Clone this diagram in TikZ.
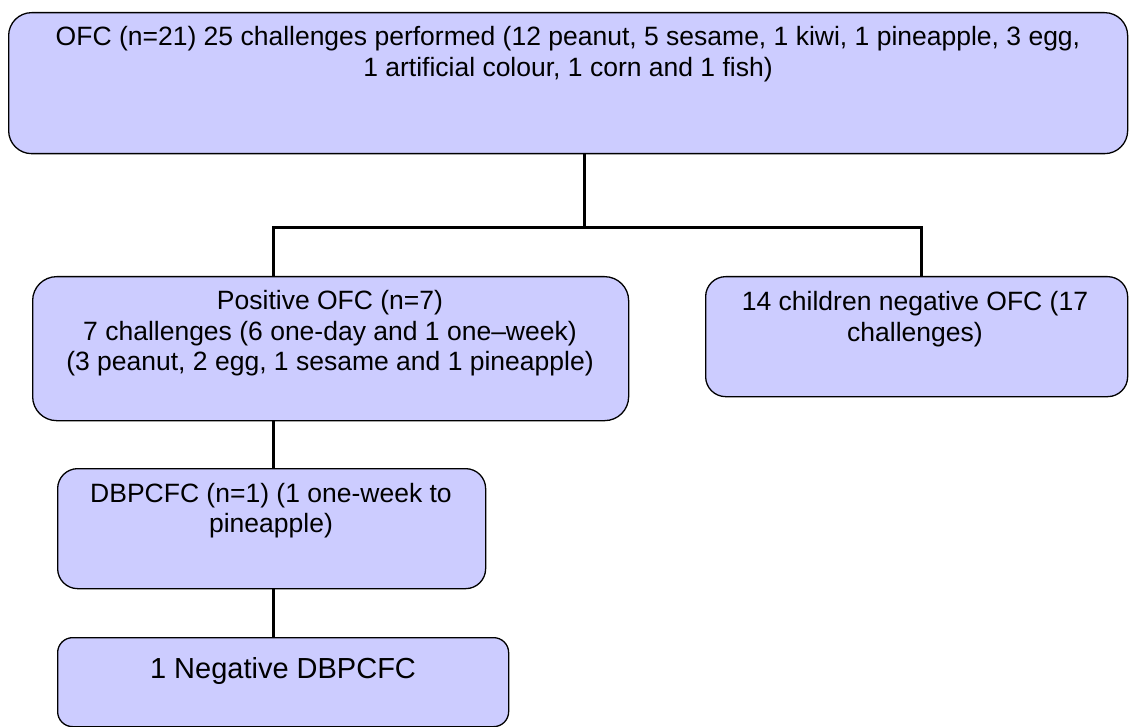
\documentclass[tikz,border=0pt]{standalone}
\usepackage{fontspec}
\setmainfont{Liberation Sans}
\definecolor{boxfill}{HTML}{CCCCFF}
\tikzset{
  box/.style={draw=black, line width=1.3pt, fill=boxfill, inner sep=0pt, anchor=north west},
  txt/.style={inner sep=0pt, anchor=base, font=\fontsize{26.5}{30.5}\selectfont},
  bigtxt/.style={inner sep=0pt, anchor=base, font=\fontsize{29}{33}\selectfont},
  conn/.style={draw=black, line width=3pt}
}
\newcommand{\boxtext}[2]{\parbox[t]{#1}{\centering #2}}
\begin{document}
\begin{tikzpicture}[x=1pt,y=-1pt]
\useasboundingbox (0,0) rectangle (1130,727);
% boxes
\node[box, rounded corners=23pt, minimum width=1119pt, minimum height=141pt] (top) at (8,12) {};
\node[box, rounded corners=24pt, minimum width=596pt, minimum height=144pt] (pos) at (32,276) {};
\node[box, rounded corners=20pt, minimum width=422pt, minimum height=120pt] (neg) at (705,276) {};
\node[box, rounded corners=20pt, minimum width=428pt, minimum height=120pt] (dbp) at (57,468) {};
\node[box, rounded corners=15pt, minimum width=451pt, minimum height=89pt] (last) at (57,637) {};
% texts
\node[txt] (toptxt) at (568,46) {\boxtext{1100pt}{OFC (n=21) 25 challenges performed (12 peanut, 5 sesame, 1 kiwi, 1 pineapple, 3 egg,\\1 artificial colour, 1 corn and 1 fish)}};
\node[txt] (postxt) at (330,310) {\boxtext{580pt}{Positive OFC (n=7)\\7 challenges (6 one-day and 1 one–week)\\(3 peanut, 2 egg, 1 sesame and 1 pineapple)}};
\node[txt] (negtxt) at (915,311) {\boxtext{410pt}{14 children negative OFC (17\\challenges)}};
\node[txt] (dbptxt) at (271,502) {\boxtext{420pt}{DBPCFC (n=1) (1 one-week to\\pineapple)}};
\node[bigtxt] (lasttxt) at (283,678) {\boxtext{440pt}{1 Negative DBPCFC}};
% connectors
\coordinate (jc) at (584,228);
\coordinate (jl) at (273,228);
\coordinate (jr) at (921,228);
\draw[conn] (jc |- top.south) -- (jc);
\draw[conn, line join=miter] (jl |- pos.north) -- (jl) -- (jr) -- (jr |- neg.north);
\draw[conn] (jl |- pos.south) -- (jl |- dbp.north);
\draw[conn] (jl |- dbp.south) -- (jl |- last.north);
\end{tikzpicture}
\end{document}
